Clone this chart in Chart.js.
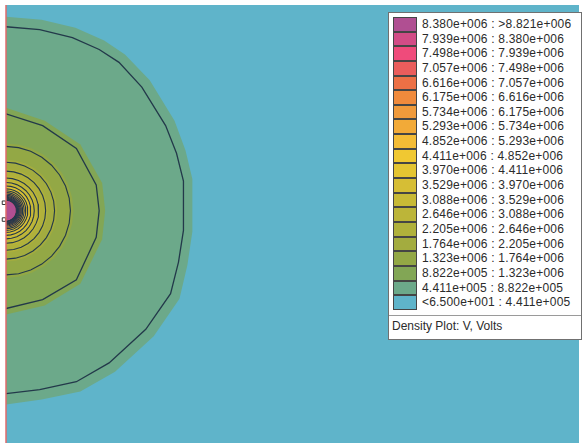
<!DOCTYPE html>
<html>
<head>
<meta charset="utf-8">
<script src="https://cdn.jsdelivr.net/npm/chart.js@4.4.1/dist/chart.umd.min.js"></script>
<style>
	html, body { margin: 0; padding: 0; background: #fff; }
	#wrap { position: relative; width: 584px; height: 448px; overflow: hidden; }
	#legend {
		position: absolute; left: 388px; top: 12px; width: 192px;
		background: #fff; border: 1px solid #707070;
		font-family: 'Liberation Sans', Arial, sans-serif; font-size: 12px; letter-spacing: 0.2px; color: #2b2b2b;
		padding: 4px 0 0 0;
	}
	#legend .row { height: 14.65px; line-height: 14.65px; white-space: nowrap; position: relative; }
	#legend .sw {
		position: absolute; left: 4px; top: 0; width: 22px; height: 12.65px;
		border: 1px solid #454545; box-sizing: content-box;
	}
	#legend .txt { position: absolute; left: 33px; top: 0; }
	#legend .title { border-top: 1px solid #9a9a9a; margin-top: 5px; padding: 3px 0 6px 3px; letter-spacing: 0; }
</style>
</head>
<body>
<div id="wrap">
	<canvas id="density-chart" width="584" height="448"></canvas>
	<div id="legend"></div>
</div>
<script>
// Density Plot: V, Volts

// legend ranges, top row first (highest band)
var bandLabels = [
	'8.380e+006 : >8.821e+006',
	'7.939e+006 : 8.380e+006',
	'7.498e+006 : 7.939e+006',
	'7.057e+006 : 7.498e+006',
	'6.616e+006 : 7.057e+006',
	'6.175e+006 : 6.616e+006',
	'5.734e+006 : 6.175e+006',
	'5.293e+006 : 5.734e+006',
	'4.852e+006 : 5.293e+006',
	'4.411e+006 : 4.852e+006',
	'3.970e+006 : 4.411e+006',
	'3.529e+006 : 3.970e+006',
	'3.088e+006 : 3.529e+006',
	'2.646e+006 : 3.088e+006',
	'2.205e+006 : 2.646e+006',
	'1.764e+006 : 2.205e+006',
	'1.323e+006 : 1.764e+006',
	'8.822e+005 : 1.323e+006',
	'4.411e+005 : 8.822e+005',
	'<6.500e+001 : 4.411e+005',
];

var bandColors = [
	'#b04f92',
	'#d24c86',
	'#ef4b7b',
	'#ea5d5c',
	'#ec7045',
	'#f08a3c',
	'#f09a3b',
	'#f2aa38',
	'#f4bc35',
	'#f0c832',
	'#e4c532',
	'#d6be35',
	'#c8ba36',
	'#bcb539',
	'#b0b13b',
	'#a3ac3f',
	'#93a845',
	'#82a655',
	'#6ca98a',
	'#5fb4ca',
];

// outer contour lines / band edges (mm from the source)
var contour1 = [[0,186],[34,183],[67,175],[94,163],[114,150],[137,125],[161,86],[172,58],[179,30],[179,-20],[174,-52],[166,-84],[141,-120],[104,-154],[71,-173],[34,-181],[0,-185]];
var contour2 = [[0,98],[37,86],[71,63],[91,26],[94,0],[91,-27],[71,-70],[37,-90],[0,-99]];
var edge1 = [[0,196],[36,193],[70,185],[99,172],[120,158],[145,132],[170,91],[181,61],[188,32],[188,-21],[183,-55],[175,-89],[149,-127],[110,-163],[75,-183],[36,-191],[0,-196]];
var edge2 = [[0,104],[39,91],[75,67],[97,28],[100,0],[97,-29],[75,-74],[39,-96],[0,-105]];

// inner contours (levels 3..19) and band edges, radius in mm
var contourRadii = [65, 49, 40, 33, 28.5, 25, 22, 20, 18.3, 16.8, 15.5, 14.4, 13.4, 12.6, 11.8, 11.1, 10.5];
var edgeRadii = [68, 51.5, 42, 35, 30, 26.3, 23.3, 21, 19.2, 17.6, 16.2, 15.1, 14.1, 13.2, 12.4, 11.6, 9.5];

// geometry nodes on the axis
var nodePoints = [[-2, 8], [-2, -9]];

var xRange = [0, 578];
var yRange = [-235, 208];

function toXY(list) {
	return list.map(function(p){ return {x: p[0], y: p[1]}; });
}

// half circle on the symmetry axis, polygonal like the mesh
function halfRing(r) {
	var pts = [];
	var n = 16;
	for (var i = 0; i <= n; i++) {
		var a = Math.PI / 2 - Math.PI * i / n;
		pts.push({x: r * Math.cos(a), y: r * Math.sin(a)});
	}
	return pts;
}

var lineData = [toXY(contour1), toXY(contour2)].concat(contourRadii.map(halfRing));
var edgeData = [toXY(edge1), toXY(edge2)].concat(edgeRadii.map(halfRing));

var datasets = [];

datasets.push({
	label: 'axis',
	data: [{x: 0, y: yRange[0]}, {x: 0, y: yRange[1]}],
	borderColor: '#e06a6a',
	borderWidth: 1.5,
	pointRadius: 0,
	clip: false,
});

datasets.push({
	label: 'nodes',
	data: toXY(nodePoints),
	showLine: false,
	pointStyle: 'rect',
	pointRadius: 2.5,
	pointBackgroundColor: 'rgba(0,0,0,0)',
	pointBorderColor: '#333',
	pointBorderWidth: 1,
	clip: false,
});

lineData.forEach(function(d, i){
	datasets.push({
		label: 'contour ' + (i + 1),
		data: d,
		borderColor: '#23394a',
		borderWidth: i < 2 ? 1.3 : 1.1,
		pointRadius: 0,
		fill: false,
	});
});

// fills: smallest band on top, so push from the inside out
for (var k = edgeData.length - 1; k >= 0; k--) {
	datasets.push({
		label: bandLabels[bandLabels.length - 2 - k],
		data: edgeData[k],
		borderWidth: 0,
		borderColor: 'rgba(0,0,0,0)',
		backgroundColor: bandColors[bandColors.length - 2 - k],
		pointRadius: 0,
		fill: 'shape',
	});
}

var plotBackground = {
	id: 'plotBackground',
	beforeDraw: function(chart) {
		var ctx = chart.ctx, a = chart.chartArea;
		ctx.save();
		ctx.fillStyle = bandColors[bandColors.length - 1];
		ctx.fillRect(a.left, a.top, a.right - a.left, a.bottom - a.top);
		ctx.restore();
	}
};

var ctx = document.getElementById('density-chart').getContext('2d');
var densityChart = new Chart(ctx, {
	type: 'line',
	data: { datasets: datasets },
	options: {
		responsive: false,
		maintainAspectRatio: false,
		devicePixelRatio: 1,
		animation: false,
		layout: { padding: { left: 6, top: 5, right: 0, bottom: 0 } },
		scales: {
			x: { type: 'linear', min: xRange[0], max: xRange[1], display: false },
			y: { type: 'linear', min: yRange[0], max: yRange[1], display: false },
		},
		plugins: {
			legend: { display: false },
			tooltip: { enabled: false },
		}
	},
	plugins: [plotBackground]
});

// legend box
var legendEl = document.getElementById('legend');
var html = '';
for (var i = 0; i < bandLabels.length; i++) {
	html += '<div class="row"><span class="sw" style="background:' + bandColors[i] + '"></span>' +
		'<span class="txt">' + bandLabels[i].replace('<', '&lt;').replace('>', '&gt;') + '</span></div>';
}
html += '<div class="title">Density Plot: V, Volts</div>';
legendEl.innerHTML = html;
</script>
</body>
</html>
